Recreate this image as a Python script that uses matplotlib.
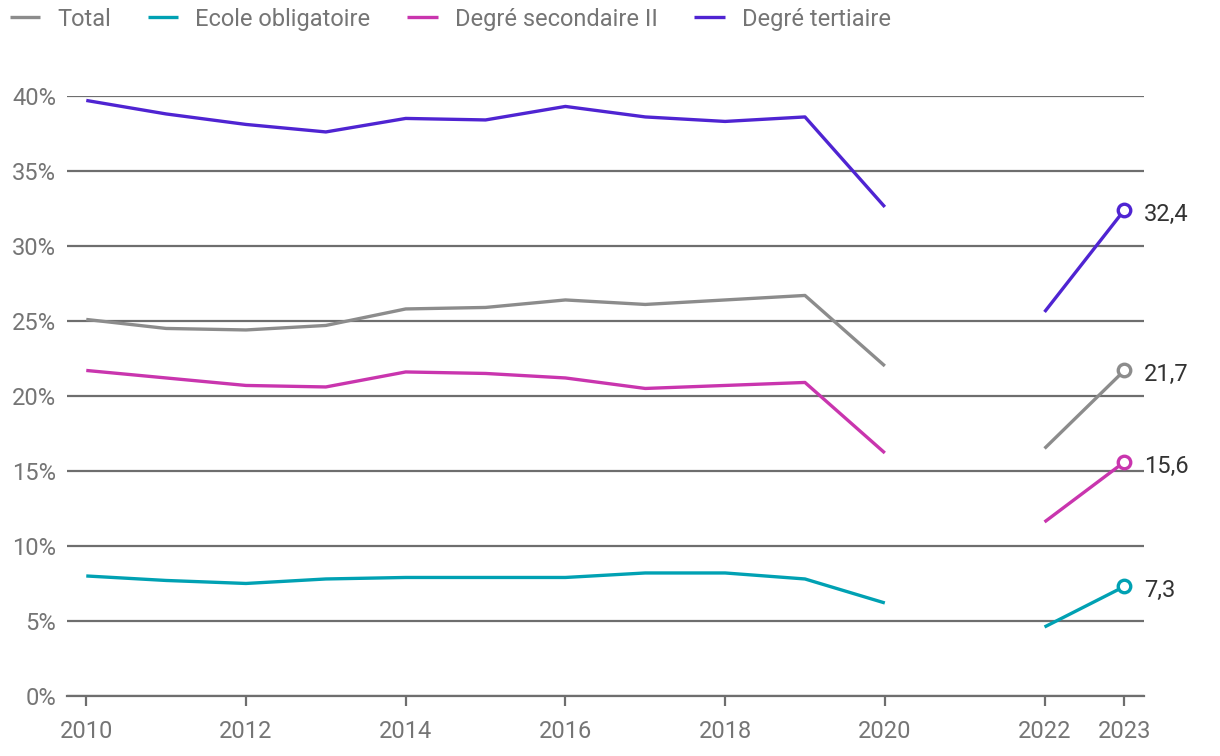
import numpy as np
import matplotlib.pyplot as plt

plt.rcParams['font.family'] = ['Roboto', 'DejaVu Sans']

years = [2010, 2011, 2012, 2013, 2014, 2015, 2016, 2017, 2018, 2019, 2020, 2021, 2022, 2023]
total = [25.1, 24.5, 24.4, 24.7, 25.8, 25.9, 26.4, 26.1, 26.4, 26.7, 22.0, np.nan, 16.5, 21.7]
obligatoire = [8.0, 7.7, 7.5, 7.8, 7.9, 7.9, 7.9, 8.2, 8.2, 7.8, 6.2, np.nan, 4.6, 7.3]
secondaire = [21.7, 21.2, 20.7, 20.6, 21.6, 21.5, 21.2, 20.5, 20.7, 20.9, 16.2, np.nan, 11.6, 15.6]
tertiaire = [39.7, 38.8, 38.1, 37.6, 38.5, 38.4, 39.3, 38.6, 38.3, 38.6, 32.6, np.nan, 25.6, 32.4]

labels = ['Total', 'Ecole obligatoire', 'Degré secondaire II', 'Degré tertiaire']
colors = ['#8c8c8c', '#00a1b3', '#c935ae', '#4f24d2']
series = [total, obligatoire, secondaire, tertiaire]

xticks = [2010, 2012, 2014, 2016, 2018, 2020, 2022, 2023]
yticks = [0, 5, 10, 15, 20, 25, 30, 35, 40]

fs = 17

fig = plt.figure(figsize=(12.2, 7.56), dpi=100)
ax = fig.add_axes([0.055, 0.0794, 0.883, 0.7937])

for vals, col, lab in zip(series, colors, labels):
    ax.plot(years, vals, color=col, lw=2.4, label=lab, solid_capstyle='butt', zorder=3)
    ax.plot(years[-1], vals[-1], marker='o', ms=9, mfc='white', mec=col, mew=2.4,
            zorder=4, clip_on=False)
    ax.annotate(f'{vals[-1]:.1f}'.replace('.', ','), (years[-1], vals[-1]),
                xytext=(14, -3), textcoords='offset points', va='center', ha='left',
                fontsize=fs, color='#333333', annotation_clip=False)

ax.set_xlim(2009.76, 2023.25)
ax.set_ylim(0, 40)
ax.set_xticks(xticks)
ax.set_xticklabels([str(x) for x in xticks])
ax.set_yticks(yticks)
ax.set_yticklabels([f'{y}%' for y in yticks])
ax.grid(axis='y', color='#6e6e6e', lw=1.6, zorder=1)
ax.set_axisbelow(True)
for s in ['top', 'right', 'left']:
    ax.spines[s].set_visible(False)
ax.spines['bottom'].set_color('#6e6e6e')
ax.spines['bottom'].set_linewidth(1.6)
ax.tick_params(axis='x', length=7, width=1.6, color='#6e6e6e', labelcolor='#757575',
               labelsize=fs, pad=10)
ax.tick_params(axis='y', length=0, labelcolor='#757575', labelsize=fs, pad=8)

fig.legend(loc='upper left', bbox_to_anchor=(-0.0095, 1.018), ncol=4, frameon=False,
           fontsize=fs, labelcolor='#757575', handlelength=1.3, handletextpad=0.72,
           columnspacing=1.55)

fig.savefig('out.png', dpi=100)
